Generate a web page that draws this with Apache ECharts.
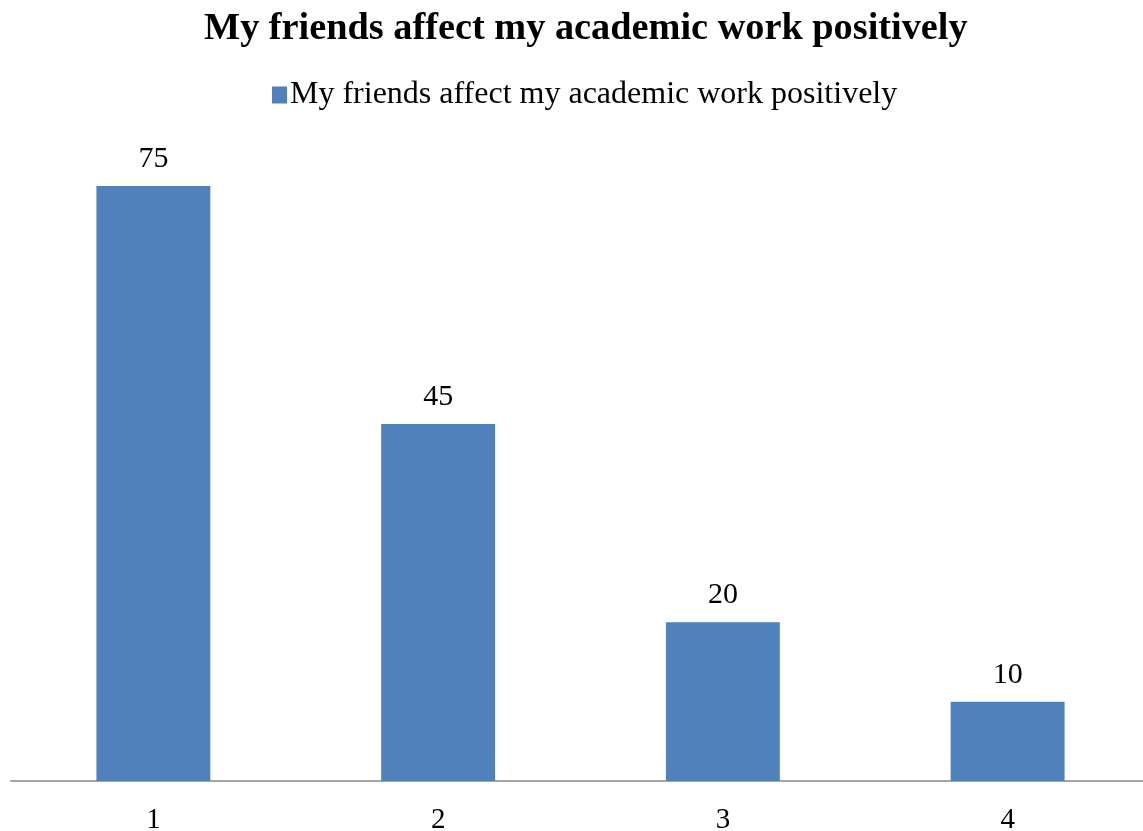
<!DOCTYPE html>
<html>
<head>
<meta charset="utf-8">
<script src="https://cdn.jsdelivr.net/npm/echarts@6/dist/echarts.min.js"></script>
<style>html,body{margin:0;padding:0;background:#fff}#c{width:1143px;height:831px}</style>
</head>
<body>
<div id="c"></div>
<script>
const titleText = 'My friends affect my academic work positively';
const seriesName = 'My friends affect my academic work positively';
const categories = ['1', '2', '3', '4'];
const values = [75, 45, 20, 10];

const chart = echarts.init(document.getElementById('c'), null, {renderer: 'canvas'});
const serif = '"Liberation Serif", "Times New Roman", serif';
chart.setOption({
  backgroundColor: '#ffffff',
  animation: false,
  title: {
    text: titleText,
    left: 199,
    top: 5,
    textStyle: {fontFamily: serif, fontWeight: 'bold', fontSize: 38.3, color: '#000'}
  },
  legend: {
    data: [seriesName],
    top: 74,
    left: 267,
    icon: 'rect',
    itemWidth: 15,
    itemHeight: 17,
    itemGap: 8,
    textStyle: {fontFamily: serif, fontSize: 32, color: '#000', padding: [0,0,0,-2]}
  },
  grid: {left: 11, width: 1139, top: 146.4, bottom: 50, containLabel: false, outerBoundsMode: 'none'},
  xAxis: {
    type: 'category',
    data: categories,
    axisLine: {lineStyle: {color: '#A6A6A6', width: 2}},
    axisTick: {show: false},
    axisLabel: {fontFamily: serif, fontSize: 29, color: '#000', margin: 25}
  },
  yAxis: {
    type: 'value',
    min: 0, max: 80,
    show: false,
    splitLine: {show: false}
  },
  series: [{
    name: seriesName,
    type: 'bar',
    data: values,
    barWidth: '40%',
    itemStyle: {color: '#4F81BD'},
    label: {show: true, position: 'top', distance: 12, fontFamily: serif, fontSize: 30, color: '#000'}
  }]
});
</script>
</body>
</html>
